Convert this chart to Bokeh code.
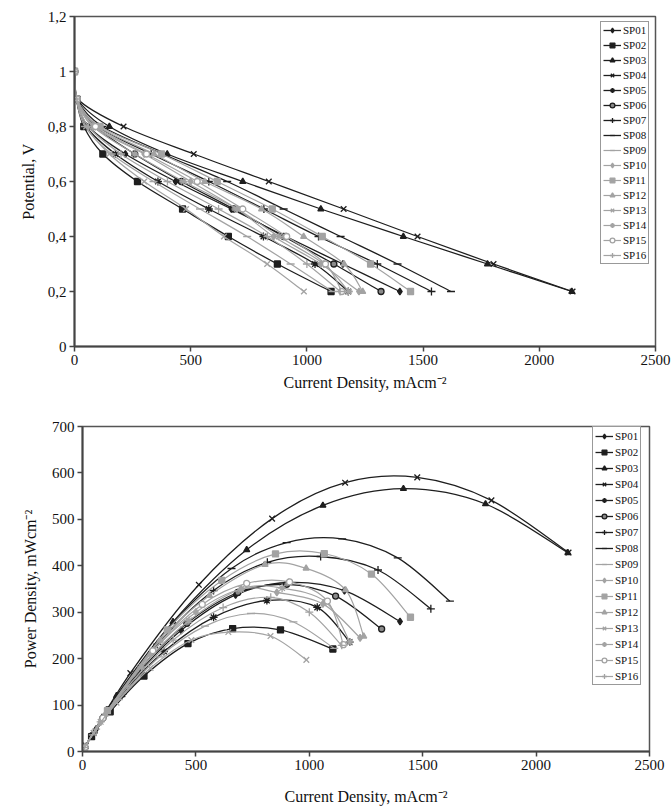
from bokeh.plotting import figure
from bokeh.models import Range1d, FixedTicker, CustomJSTickFormatter, Legend, LegendItem
from bokeh.embed import file_html
from bokeh.resources import INLINE

# Potential levels (V) at which current density was measured
potential = [1.0, 0.9, 0.8, 0.7, 0.6, 0.5, 0.4, 0.3, 0.2]

names = ["SP01", "SP02", "SP03", "SP04", "SP05", "SP06", "SP07", "SP08",
         "SP09", "SP10", "SP11", "SP12", "SP13", "SP14", "SP15", "SP16"]

# Current density (mA/cm2) at each potential level
sp01 = [0, 10, 60, 219, 435, 675, 910, 1155, 1400]
sp02 = [0, 8, 40, 122, 271, 465, 662, 873, 1104]
sp03 = [0, 12, 150, 399, 724, 1060, 1415, 1777, 2140]
sp04 = [0, 14, 211, 513, 836, 1158, 1476, 1803, 2143]
sp05 = [0, 8, 50, 176, 359, 578, 813, 1035, 1178]
sp06 = [0, 10, 90, 259, 460, 685, 900, 1116, 1319]
sp07 = [0, 10, 100, 330, 578, 815, 1050, 1303, 1536]
sp08 = [0, 10, 120, 380, 657, 900, 1145, 1390, 1620]
sp09 = [0, 8, 45, 160, 340, 540, 743, 930, 1110]
sp10 = [0, 10, 80, 300, 500, 700, 857, 1060, 1224]
sp11 = [0, 10, 110, 374, 614, 851, 1066, 1274, 1446]
sp12 = [0, 10, 100, 342, 560, 805, 986, 1160, 1240]
sp13 = [0, 8, 50, 150, 300, 480, 643, 829, 987]
sp14 = [0, 10, 80, 260, 470, 700, 880, 1073, 1179]
sp15 = [0, 10, 90, 310, 528, 724, 913, 1080, 1150]
sp16 = [0, 10, 60, 200, 400, 620, 830, 1000, 1143]
currents = [sp01, sp02, sp03, sp04, sp05, sp06, sp07, sp08,
            sp09, sp10, sp11, sp12, sp13, sp14, sp15, sp16]

x_ticks = [0, 500, 1000, 1500, 2000, 2500]
v_ticks = [0, 0.2, 0.4, 0.6, 0.8, 1.0, 1.2]
p_ticks = [0, 100, 200, 300, 400, 500, 600, 700]

DARK = "#1e1e1e"
GRAY = "#a3a3a3"
markers = ["diamond", "square", "triangle", "x", "asterisk", "circle", "cross", "dash",
           "dash", "diamond", "square", "triangle", "x", "asterisk", "circle", "cross"]
FONT = "Liberation Serif"


def style(p, ylabel, title_standoff, ytitle_standoff, yfmt=None):
    p.x_range = Range1d(0, 2500)
    p.xaxis.ticker = FixedTicker(ticks=x_ticks)
    for ax in (p.xaxis[0], p.yaxis[0]):
        ax.axis_line_color = "#444444"
        ax.axis_line_width = 2
        ax.major_tick_line_color = "#444444"
        ax.major_tick_line_width = 1.5
        ax.major_tick_out = 5
        ax.major_tick_in = 0
        ax.minor_tick_line_color = None
        ax.major_label_standoff = 3
        ax.major_label_text_font = FONT
        ax.major_label_text_font_size = "15px"
        ax.major_label_text_color = "#111111"
        ax.axis_label_text_font = FONT
        ax.axis_label_text_font_size = "16px"
        ax.axis_label_text_font_style = "normal"
        ax.axis_label_text_color = "#111111"
    p.xaxis.axis_label = "Current Density, mAcm\u207b\u00b2"
    p.xaxis.axis_label_standoff = title_standoff
    p.yaxis.axis_label = ylabel
    p.yaxis.axis_label_standoff = ytitle_standoff
    if yfmt is not None:
        p.yaxis.formatter = yfmt
    p.xgrid.grid_line_color = None
    p.ygrid.grid_line_color = None
    p.outline_line_color = "#555555"
    p.outline_line_width = 1.5
    p.background_fill_color = "white"
    p.border_fill_color = "white"


def smooth(p, xs, ys, color, width):
    n = len(xs)
    x0, y0, x1, y1, cx0, cy0, cx1, cy1 = [], [], [], [], [], [], [], []
    for i in range(n - 1):
        a = max(i - 1, 0)
        d = min(i + 2, n - 1)
        x0.append(xs[i]); y0.append(ys[i])
        x1.append(xs[i + 1]); y1.append(ys[i + 1])
        cx0.append(xs[i] + (xs[i + 1] - xs[a]) / 6.0)
        cy0.append(ys[i] + (ys[i + 1] - ys[a]) / 6.0)
        cx1.append(xs[i + 1] - (xs[d] - xs[i]) / 6.0)
        cy1.append(ys[i + 1] - (ys[d] - ys[i]) / 6.0)
    p.bezier(x0=x0, y0=y0, x1=x1, y1=y1, cx0=cx0, cy0=cy0, cx1=cx1, cy1=cy1,
             line_color=color, line_width=width)


def draw(p, yvals_fn):
    items = []
    for k, (name, cur) in enumerate(zip(names, currents)):
        dark = k < 8
        col = DARK if dark else GRAY
        lw = 1.3 if dark else 1.2
        ys = yvals_fn(cur)
        smooth(p, cur, ys, col, lw)
        # one-point line: draws nothing on the plot, gives the legend its line sample
        leg_line = p.line(x=cur[:1], y=ys[:1], line_color=col, line_width=lw)
        m = markers[k]
        fill = col
        if m == "circle":
            fill = "#8a8a8a" if dark else "white"
        size = 7 if m in ("diamond",) else (6 if m in ("square", "triangle", "circle") else 8)
        sc = p.scatter(x=cur, y=ys, marker=m, size=size, line_color=col,
                       fill_color=fill, line_width=1.3)
        items.append(LegendItem(label=name, renderers=[leg_line, sc]))
    return items


def legend(items, x, y, label_h):
    lg = Legend(items=items, location=(x, y))
    lg.label_text_font = FONT
    lg.label_text_font_size = "11px"
    lg.label_text_color = "#111111"
    lg.glyph_width = 18
    lg.glyph_height = 12
    lg.label_height = label_h
    lg.label_standoff = 2
    lg.spacing = 3
    lg.padding = 2
    lg.margin = 0
    lg.border_line_color = "#333333"
    lg.border_line_width = 1.5
    lg.background_fill_color = "white"
    lg.background_fill_alpha = 1
    return lg


comma = CustomJSTickFormatter(code="""
var v = Math.round(tick * 10) / 10;
return v.toString().replace('.', ',');
""")

# ---- Top: polarisation curves ----
p1 = figure(frame_width=581, frame_height=330, output_backend="svg", toolbar_location=None,
            min_border_left=74, min_border_right=16, min_border_top=16, min_border_bottom=50)
style(p1, "Potential, V", 6, 8, comma)
p1.y_range = Range1d(0, 1.2)
p1.yaxis.ticker = FixedTicker(ticks=v_ticks)
items1 = draw(p1, lambda cur: potential)
p1.add_layout(legend(items1, 526, 82, 12))

# ---- Bottom: power density curves ----
p2 = figure(frame_width=567, frame_height=325, output_backend="svg", toolbar_location=None,
            min_border_left=82, min_border_right=22, min_border_top=30, min_border_bottom=56)
style(p2, "Power Density, mWcm\u207b\u00b2", 15, 10)
p2.y_range = Range1d(0, 700)
p2.yaxis.ticker = FixedTicker(ticks=p_ticks)
items2 = draw(p2, lambda cur: [v * c for v, c in zip(potential, cur)])
p2.add_layout(legend(items2, 510, 66, 13))

open("out.html", "w").write(file_html([p1, p2], INLINE))
